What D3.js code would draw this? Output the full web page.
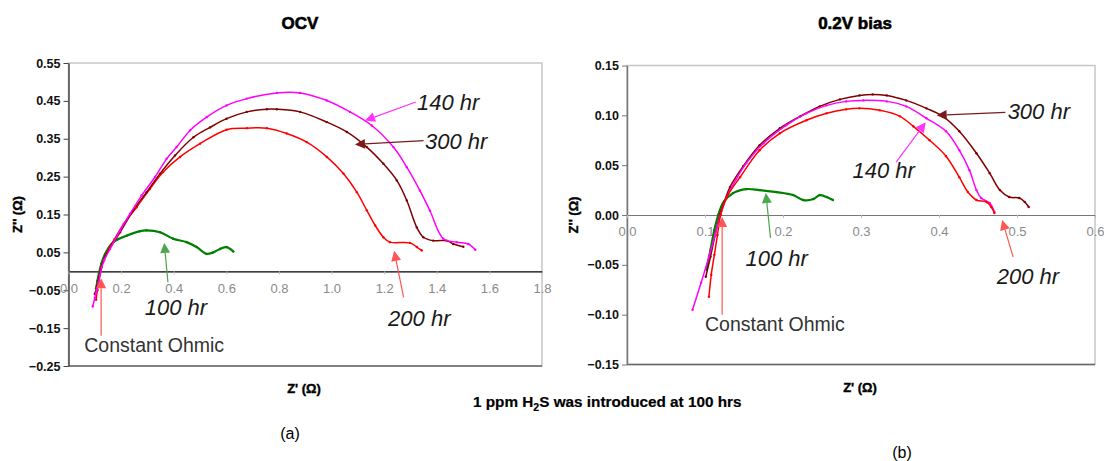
<!DOCTYPE html>
<html>
<head>
<meta charset="utf-8">
<script src="https://cdn.jsdelivr.net/npm/d3@7"></script>
<style>
  body { margin: 0; background: #fff; }
  svg { display: block; font-family: "Liberation Sans", Arial, sans-serif; }
</style>
</head>
<body>
<div id="chart"></div>
<script>
// ---- data (Z', -Z'') ----
const ocv140 = [[0.092,-0.093],[0.100,-0.070],[0.107,-0.050],[0.114,-0.030],[0.120,-0.010],[0.126,0.010],[0.136,0.030],[0.158,0.059],[0.196,0.108],[0.234,0.152],[0.278,0.200],[0.329,0.249],[0.373,0.297],[0.411,0.328],[0.462,0.372],[0.525,0.407],[0.601,0.438],[0.678,0.456],[0.792,0.471],[0.880,0.471],[0.982,0.451],[1.070,0.421],[1.153,0.385],[1.235,0.328],[1.286,0.275],[1.336,0.213],[1.374,0.160],[1.425,0.086],[1.476,0.077],[1.520,0.072],[1.546,0.057]];
const ocv300 = [[0.100,-0.060],[0.108,-0.040],[0.116,-0.015],[0.124,0.010],[0.140,0.040],[0.165,0.070],[0.196,0.103],[0.246,0.161],[0.297,0.209],[0.348,0.258],[0.405,0.306],[0.475,0.354],[0.538,0.380],[0.601,0.403],[0.678,0.421],[0.754,0.428],[0.792,0.428],[0.880,0.421],[0.982,0.394],[1.058,0.368],[1.134,0.328],[1.197,0.284],[1.248,0.240],[1.286,0.187],[1.324,0.116],[1.349,0.090],[1.387,0.081],[1.438,0.081],[1.463,0.072],[1.501,0.065]];
const ocv200 = [[0.105,-0.075],[0.110,-0.050],[0.116,-0.025],[0.122,0.000],[0.132,0.025],[0.150,0.055],[0.175,0.085],[0.210,0.125],[0.259,0.169],[0.310,0.218],[0.360,0.262],[0.424,0.302],[0.500,0.337],[0.601,0.374],[0.678,0.378],[0.754,0.378],[0.830,0.364],[0.906,0.341],[0.982,0.302],[1.045,0.258],[1.096,0.209],[1.134,0.161],[1.166,0.121],[1.197,0.090],[1.222,0.077],[1.298,0.075],[1.324,0.064],[1.343,0.055]];
const ocv100 = [[0.105,-0.045],[0.110,-0.025],[0.116,-0.005],[0.125,0.020],[0.139,0.046],[0.170,0.077],[0.221,0.094],[0.272,0.106],[0.297,0.108],[0.348,0.103],[0.398,0.086],[0.449,0.077],[0.487,0.064],[0.525,0.046],[0.550,0.050],[0.576,0.059],[0.601,0.064],[0.627,0.052]];

const bias140 = [[0.084,-0.095],[0.095,-0.068],[0.105,-0.042],[0.113,-0.020],[0.119,-0.002],[0.128,0.018],[0.140,0.036],[0.153,0.052],[0.175,0.072],[0.204,0.090],[0.230,0.102],[0.256,0.110],[0.281,0.114],[0.303,0.115],[0.333,0.114],[0.358,0.109],[0.384,0.097],[0.409,0.084],[0.426,0.065],[0.439,0.045],[0.448,0.025],[0.454,0.017],[0.465,0.012],[0.471,0.003]];
const bias300 = [[0.101,-0.062],[0.107,-0.042],[0.113,-0.020],[0.119,0.000],[0.125,0.014],[0.132,0.028],[0.149,0.049],[0.170,0.070],[0.196,0.087],[0.222,0.099],[0.247,0.109],[0.273,0.116],[0.298,0.120],[0.315,0.121],[0.333,0.120],[0.358,0.115],[0.384,0.107],[0.405,0.099],[0.426,0.084],[0.448,0.062],[0.465,0.042],[0.478,0.025],[0.490,0.018],[0.503,0.017],[0.510,0.013],[0.515,0.008]];
const bias200 = [[0.105,-0.082],[0.108,-0.060],[0.112,-0.040],[0.116,-0.020],[0.120,0.000],[0.128,0.018],[0.145,0.038],[0.170,0.065],[0.196,0.082],[0.230,0.095],[0.256,0.102],[0.281,0.106],[0.298,0.107],[0.324,0.105],[0.350,0.099],[0.367,0.089],[0.388,0.075],[0.409,0.059],[0.426,0.038],[0.437,0.023],[0.448,0.015],[0.461,0.013],[0.467,0.008],[0.471,0.002]];
const bias100 = [[0.102,-0.055],[0.107,-0.035],[0.112,-0.015],[0.117,0.000],[0.123,0.012],[0.136,0.022],[0.153,0.026],[0.170,0.025],[0.192,0.023],[0.213,0.020],[0.226,0.015],[0.239,0.016],[0.247,0.020],[0.256,0.018],[0.264,0.015]];

const ocvXTicks = [0, 0.2, 0.4, 0.6, 0.8, 1.0, 1.2, 1.4, 1.6, 1.8];
const ocvYTicks = [0.55, 0.45, 0.35, 0.25, 0.15, 0.05, -0.05, -0.15, -0.25];
const biasXTicks = [0, 0.1, 0.2, 0.3, 0.4, 0.5, 0.6];
const biasYTicks = [0.15, 0.10, 0.05, 0.00, -0.05, -0.10, -0.15];

// annotations: label, text anchor, arrow tail and tip, in data units
const ocvNotes = [
  { text: '140 hr', color: '#ff33ff', at: [1.325, 0.447], tail: [1.320, 0.447], tip: [1.127, 0.398], italic: true },
  { text: '300 hr', color: '#7a1a1a', at: [1.355, 0.343], tail: [1.350, 0.345], tip: [1.089, 0.335], italic: true },
  { text: '100 hr', color: '#4ca64c', at: [0.290, -0.095], tail: [0.378, -0.029], tip: [0.364, 0.075], italic: true },
  { text: '200 hr', color: '#ff5555', at: [1.215, -0.123], tail: [1.274, -0.069], tip: [1.238, 0.054], italic: true },
  { text: 'Constant Ohmic', color: '#ff5555', at: [0.060, -0.196], tail: [0.124, -0.170], tip: [0.124, -0.018], italic: false }
];
const biasNotes = [
  { text: '300 hr', color: '#7a1a1a', at: [0.488, 0.104], tail: [0.485, 0.103], tip: [0.397, 0.100], italic: true },
  { text: '140 hr', color: '#ff33ff', at: [0.289, 0.045], tail: [0.345, 0.053], tip: [0.383, 0.093], italic: true },
  { text: '100 hr', color: '#4ca64c', at: [0.152, -0.043], tail: [0.184, -0.023], tip: [0.178, 0.022], italic: true },
  { text: '200 hr', color: '#ff5555', at: [0.474, -0.062], tail: [0.495, -0.042], tip: [0.481, -0.005], italic: true },
  { text: 'Constant Ohmic', color: '#ff5555', at: [0.100, -0.110], tail: [0.122, -0.100], tip: [0.122, -0.002], italic: false }
];

const COLORS = { h140: '#ff00ff', h300: '#800000', h200: '#ff0000', h100: '#008000' };

const svg = d3.select('#chart').append('svg')
  .attr('width', 1104)
  .attr('height', 461);

const drawArrow = (g, x, y, note) => {
  const x1 = x(note.tail[0]), y1 = y(note.tail[1]);
  const x2 = x(note.tip[0]), y2 = y(note.tip[1]);
  const ang = Math.atan2(y2 - y1, x2 - x1);
  const len = 10, half = 5;
  const bx = x2 - len * Math.cos(ang), by = y2 - len * Math.sin(ang);
  g.append('line')
    .attr('x1', x1).attr('y1', y1).attr('x2', bx).attr('y2', by)
    .attr('stroke', note.color).attr('stroke-width', 1.2);
  g.append('path')
    .attr('d', `M${x2},${y2}L${bx - half * Math.sin(ang)},${by + half * Math.cos(ang)}L${bx + half * Math.sin(ang)},${by - half * Math.cos(ang)}Z`)
    .attr('fill', note.color);
};

function drawPanel(opts) {
  const x = d3.scaleLinear().domain(opts.xDomain).range(opts.xRange);
  const y = d3.scaleLinear().domain(opts.yDomain).range(opts.yRange);
  const g = svg.append('g');

  // frame
  g.append('rect')
    .attr('x', opts.xRange[0]).attr('y', opts.yRange[1])
    .attr('width', opts.xRange[1] - opts.xRange[0])
    .attr('height', opts.yRange[0] - opts.yRange[1])
    .attr('fill', 'none').attr('stroke', '#c6c6c6').attr('stroke-width', 1.5);
  g.append('line')
    .attr('x1', opts.xRange[0]).attr('x2', opts.xRange[1])
    .attr('y1', opts.yRange[0]).attr('y2', opts.yRange[0])
    .attr('stroke', '#666').attr('stroke-width', 1.5);

  // y axis
  const yAxis = g.append('g')
    .attr('transform', `translate(${opts.xRange[0]},0)`)
    .call(d3.axisLeft(y).tickValues(opts.yTicks).tickFormat(d3.format('.2f')).tickSizeInner(5).tickSizeOuter(0).tickPadding(3));
  yAxis.select('.domain').attr('stroke', opts.yAxisColor).attr('stroke-width', 1.5);
  yAxis.selectAll('.tick line').attr('stroke', opts.yAxisColor);
  yAxis.selectAll('text')
    .attr('font-size', 12.5).attr('font-weight', 'bold').attr('fill', '#111')
    .attr('font-family', '"Liberation Sans", Arial, sans-serif');

  // x axis on the zero line
  const xAxis = g.append('g')
    .attr('transform', `translate(0,${y(0)})`)
    .call(d3.axisBottom(x).tickValues(opts.xTicks).tickFormat(d3.format('.1f')).tickSizeInner(3).tickSizeOuter(0).tickPadding(9));
  xAxis.select('.domain').attr('stroke', opts.zeroColor).attr('stroke-width', 1.2);
  xAxis.selectAll('.tick line').attr('stroke', '#bbb');
  xAxis.selectAll('text')
    .attr('font-size', 13).attr('fill', '#8a8a8a')
    .attr('font-family', '"Liberation Sans", Arial, sans-serif');

  // curves
  const line = d3.line()
    .x(d => x(d[0]))
    .y(d => y(d[1]))
    .curve(d3.curveCatmullRom.alpha(0.5));

  opts.series.forEach(s => {
    g.append('path')
      .datum(s.values)
      .attr('d', line)
      .attr('fill', 'none')
      .attr('stroke', s.color)
      .attr('stroke-width', s.width);
    g.selectAll(null)
      .data(s.values)
      .join('circle')
      .attr('cx', d => x(d[0]))
      .attr('cy', d => y(d[1]))
      .attr('r', 1.2)
      .attr('fill', s.color);
  });

  // annotations
  opts.notes.forEach(n => {
    drawArrow(g, x, y, n);
    g.append('text')
      .attr('x', x(n.at[0])).attr('y', y(n.at[1]))
      .attr('dy', '0.35em')
      .attr('font-size', n.italic ? 22 : 19.5)
      .attr('font-style', n.italic ? 'italic' : 'normal')
      .attr('fill', n.italic ? '#1a1a1a' : '#333')
      .text(n.text);
  });

  // titles
  g.append('text')
    .attr('x', opts.titleX).attr('y', 29)
    .attr('text-anchor', 'middle')
    .attr('font-size', 17).attr('font-weight', 'bold')
    .attr('stroke', '#000').attr('stroke-width', 0.6)
    .text(opts.title);
  g.append('text')
    .attr('x', opts.xTitleX).attr('y', opts.xTitleY)
    .attr('text-anchor', 'middle')
    .attr('font-size', 13).attr('font-weight', 'bold')
    .attr('stroke', '#000').attr('stroke-width', 0.4)
    .text("Z' (Ω)");
  g.append('text')
    .attr('transform', `translate(${opts.yTitleX},${(opts.yRange[0] + opts.yRange[1]) / 2}) rotate(-90)`)
    .attr('text-anchor', 'middle')
    .attr('font-size', 13).attr('font-weight', 'bold')
    .attr('stroke', '#000').attr('stroke-width', 0.4)
    .text("Z'' (Ω)");
  g.append('text')
    .attr('x', opts.tagX).attr('y', opts.tagY)
    .attr('text-anchor', 'middle')
    .attr('font-size', 16)
    .text(opts.tag);
}

drawPanel({
  xDomain: [0, 1.8], xRange: [68.5, 542],
  yDomain: [-0.25, 0.55], yRange: [366, 63],
  xTicks: ocvXTicks, yTicks: ocvYTicks,
  yAxisColor: '#444', zeroColor: '#000',
  series: [
    { values: ocv100, color: COLORS.h100, width: 2.2 },
    { values: ocv200, color: COLORS.h200, width: 1.5 },
    { values: ocv300, color: COLORS.h300, width: 1.5 },
    { values: ocv140, color: COLORS.h140, width: 1.5 }
  ],
  notes: ocvNotes,
  title: 'OCV', titleX: 300,
  xTitleX: 304, xTitleY: 393,
  yTitleX: 22,
  tag: '(a)', tagX: 290, tagY: 439
});

drawPanel({
  xDomain: [0, 0.6], xRange: [627, 1095],
  yDomain: [-0.15, 0.15], yRange: [364.5, 65.5],
  xTicks: biasXTicks, yTicks: biasYTicks,
  yAxisColor: '#777', zeroColor: '#777',
  series: [
    { values: bias100, color: COLORS.h100, width: 2.2 },
    { values: bias300, color: COLORS.h300, width: 1.5 },
    { values: bias140, color: COLORS.h140, width: 1.5 },
    { values: bias200, color: COLORS.h200, width: 1.5 }
  ],
  notes: biasNotes,
  title: '0.2V bias', titleX: 855,
  xTitleX: 860, xTitleY: 392,
  yTitleX: 578,
  tag: '(b)', tagX: 902, tagY: 458
});

// footnote
const foot = svg.append('text')
  .attr('x', 473).attr('y', 407)
  .attr('font-size', 15.3).attr('font-weight', 'bold')
  .attr('stroke', '#000').attr('stroke-width', 0.2);
foot.append('tspan').text('1 ppm H');
foot.append('tspan').attr('font-size', 10.5).attr('dy', 4).text('2');
foot.append('tspan').attr('dy', -4).text('S was introduced at 100 hrs');
</script>
</body>
</html>
